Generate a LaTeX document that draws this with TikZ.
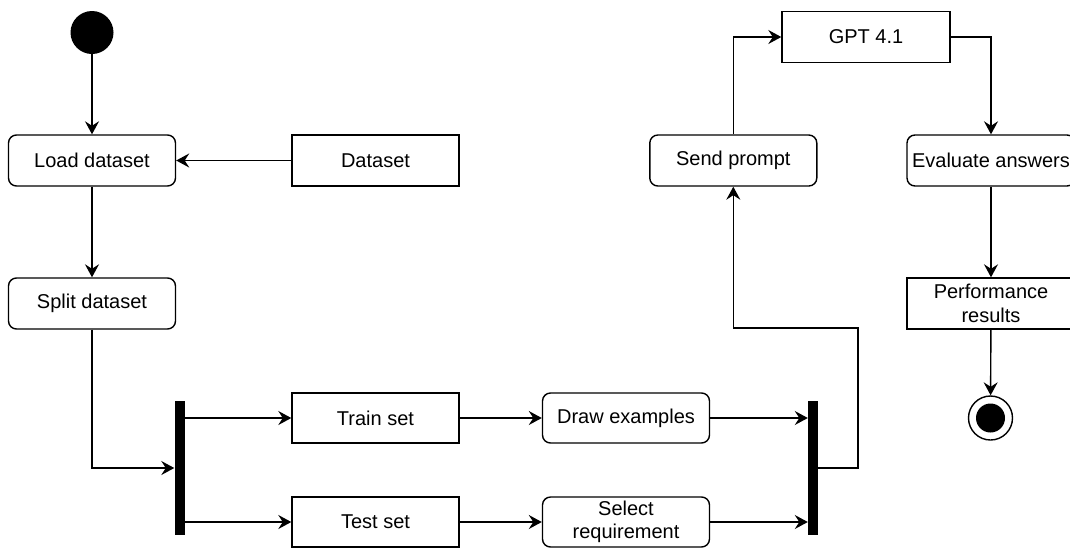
\documentclass[tikz,border=0pt]{standalone}
\usepackage{fontspec}
\setmainfont{Liberation Sans}
\usetikzlibrary{arrows.meta}
\begin{document}
\begin{tikzpicture}[x=1pt,y=-1pt,
  every node/.style={font=\fontsize{20}{23.5}\selectfont},
  act/.style={draw,line width=1.4pt,rounded corners=8pt,minimum width=167pt,minimum height=51pt,inner sep=0pt,align=center},
  obj/.style={draw,line width=1.4pt,minimum width=167pt,minimum height=51pt,inner sep=0pt,align=center},
  bar/.style={fill=black,draw=none,minimum width=10pt,minimum height=134pt,inner sep=0pt},
  conn/.style={line width=1.4pt,-{Stealth[length=13pt,width=14pt,inset=4.5pt]}},
  plain/.style={line width=1.4pt}]
\useasboundingbox (0,0) rectangle (1070,547);
\node[circle,fill=black,minimum size=43pt,inner sep=0pt] (start) at (92,32.5) {};
\node[act] (load) at (92,160.5) {Load dataset};
\node[obj] (dataset) at (375.5,160.5) {Dataset};
\node[act] (split) at (92,303.5) {Split dataset};
\node[bar] (fork) at (179.5,468) {};
\node[obj,minimum height=50pt] (train) at (375.5,418) {Train set};
\node[obj,minimum height=50pt] (test) at (375.5,522) {Test set};
\node[act,minimum height=50pt] (draw) at (626,418) {Draw examples};
\node[act,minimum height=50pt] (select) at (626,522) {Select\\requirement};
\node[bar] (join) at (813,468) {};
\node[act] (send) at (733.3,160.5) {Send prompt};
\node[obj,minimum width=168pt] (gpt) at (866,37) {GPT 4.1};
\node[act,minimum width=168pt] (eval) at (991,160.5) {Evaluate answers};
\node[obj,minimum width=168pt] (perf) at (991,303.5) {Performance\\results};
\node[circle,draw,line width=1.4pt,minimum size=44pt,inner sep=0pt] (end) at (990.5,418) {};
\node[circle,fill=black,minimum size=29pt,inner sep=0pt] (endin) at (end.center) {};
\coordinate (j1) at (858,328);
\draw[conn] (start) -- (load);
\draw[conn] (dataset) -- (load);
\draw[conn] (load) -- (split);
\draw[conn] (split.south) |- (fork.west);
\draw[conn] (fork.east |- train.west) -- (train.west);
\draw[conn] (fork.east |- test.west) -- (test.west);
\draw[conn] (train) -- (draw);
\draw[conn] (test) -- (select);
\draw[conn] (draw.east) -- (join.west |- draw.east);
\draw[conn] (select.east) -- (join.west |- select.east);
\draw[conn] (join.east) -| (j1) -| (send.south);
\draw[conn] (send.north) |- (gpt.west);
\draw[conn] (gpt.east) -| (eval.north);
\draw[conn] (eval) -- (perf);
\draw[conn] (perf) -- (end);
\end{tikzpicture}
\end{document}
